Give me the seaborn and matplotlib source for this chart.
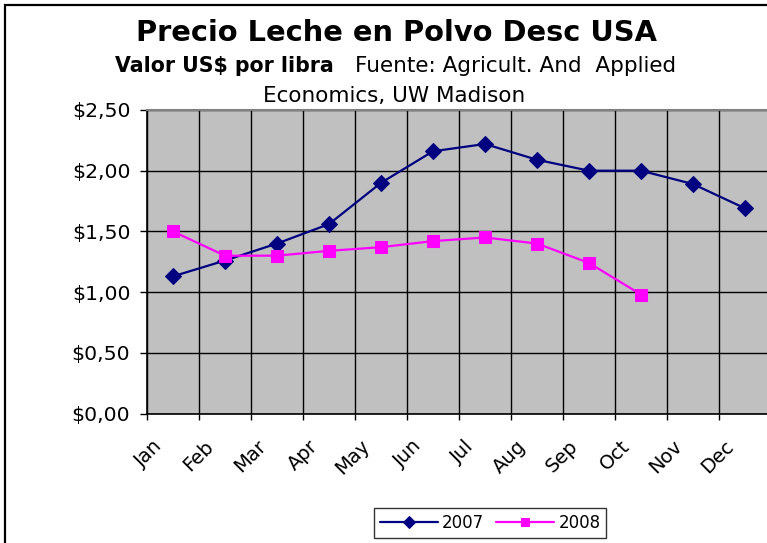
import numpy as np
import pandas as pd
import matplotlib
matplotlib.use("Agg")
import matplotlib.pyplot as plt
import matplotlib.ticker as mticker
from matplotlib.patches import Rectangle
import seaborn as sns

months = ["Jan", "Feb", "Mar", "Apr", "May", "Jun",
          "Jul", "Aug", "Sep", "Oct", "Nov", "Dec"]
price_2007 = [1.13, 1.26, 1.40, 1.56, 1.90, 2.16, 2.22, 2.09, 2.00, 2.00, 1.89, 1.69]
price_2008 = [1.50, 1.30, 1.30, 1.34, 1.37, 1.42, 1.45, 1.40, 1.24, 0.98]

sns.set_style("white")
plt.rcParams["font.family"] = ["DejaVu Sans"]
plt.rcParams["text.color"] = "black"
plt.rcParams["xtick.color"] = "black"
plt.rcParams["ytick.color"] = "black"
plt.rcParams["axes.labelcolor"] = "black"

df07 = pd.DataFrame({"mes": np.arange(len(price_2007)), "precio": price_2007})
df08 = pd.DataFrame({"mes": np.arange(len(price_2008)), "precio": price_2008})

fig = plt.figure(figsize=(7.67, 5.43), dpi=100)
ax = fig.add_axes([147 / 767, 129.5 / 543, 624 / 767, 303.5 / 543])
ax.set_facecolor("#C0C0C0")

sns.lineplot(data=df07, x="mes", y="precio", ax=ax, color="#000080",
             marker="D", markersize=8.5, markeredgecolor="#000080",
             linewidth=1.6, label="2007")
sns.lineplot(data=df08, x="mes", y="precio", ax=ax, color="#FF00FF",
             marker="s", markersize=8.5, markeredgecolor="#FF00FF",
             linewidth=1.6, label="2008")

ax.set_xlim(-0.5, 11.5)
ax.set_ylim(0, 2.5)
ax.set_xlabel("")
ax.set_ylabel("")

# gridlines on category boundaries, labels near category centres
ax.xaxis.set_major_locator(mticker.FixedLocator(np.arange(-0.5, 12, 1)))
ax.xaxis.set_major_formatter(mticker.NullFormatter())
ax.xaxis.set_minor_locator(mticker.FixedLocator(np.arange(12) - 0.27))
ax.xaxis.set_minor_formatter(mticker.FixedFormatter(months))
ax.tick_params(axis="x", which="major", direction="out", length=4.3,
               width=1, color="black", bottom=True)
ax.tick_params(axis="x", which="minor", length=0, pad=21.5, labelsize=14)
for lbl in ax.get_xticklabels(minor=True):
    lbl.set_rotation(45)
    lbl.set_ha("right")
    lbl.set_va("center")
    lbl.set_rotation_mode("anchor")

ax.yaxis.set_major_locator(mticker.MultipleLocator(0.5))
ax.yaxis.set_major_formatter(
    mticker.FuncFormatter(lambda v, p: f"${v:.2f}".replace(".", ",")))
ax.tick_params(axis="y", direction="out", length=5, width=1, color="black",
               left=True, labelsize=14.7, pad=7)

ax.grid(True, which="major", color="black", linewidth=1)
for side in ["left", "bottom"]:
    ax.spines[side].set_color("black")
    ax.spines[side].set_linewidth(1.2)
for side in ["top", "right"]:
    ax.spines[side].set_color("#808080")
    ax.spines[side].set_linewidth(1.5)

leg = ax.legend(loc="center", bbox_to_anchor=(490 / 767, 1 - 523 / 543),
                bbox_transform=fig.transFigure, ncol=2, frameon=True,
                fancybox=False, edgecolor="black", fontsize=12,
                handlelength=3.5, columnspacing=0.7, handletextpad=0.25,
                borderpad=0.35)
leg.get_frame().set_linewidth(1)
for h in leg.legend_handles:
    h.set_markersize(6)

fig.text(397 / 767, 1 - 33 / 543, "Precio Leche en Polvo Desc USA",
         ha="center", va="center", fontsize=20.8, fontweight="bold")
fig.text(334 / 767, 1 - 66 / 543, "Valor US$ por libra",
         ha="right", va="center", fontsize=14.8, fontweight="bold")
fig.text(355 / 767, 1 - 66 / 543, "Fuente: Agricult. And  Applied",
         ha="left", va="center", fontsize=15.5)
fig.text(394 / 767, 1 - 96 / 543, "Economics, UW Madison",
         ha="center", va="center", fontsize=15.5)

# chart area border (cut off at right and bottom, as in the source)
fig.patches.append(Rectangle((5 / 767, -0.1), 1.2, 1 - 5 / 543 + 0.1,
                             transform=fig.transFigure, fill=False,
                             edgecolor="black", linewidth=1.6))

fig.savefig("out.png", dpi=100)
